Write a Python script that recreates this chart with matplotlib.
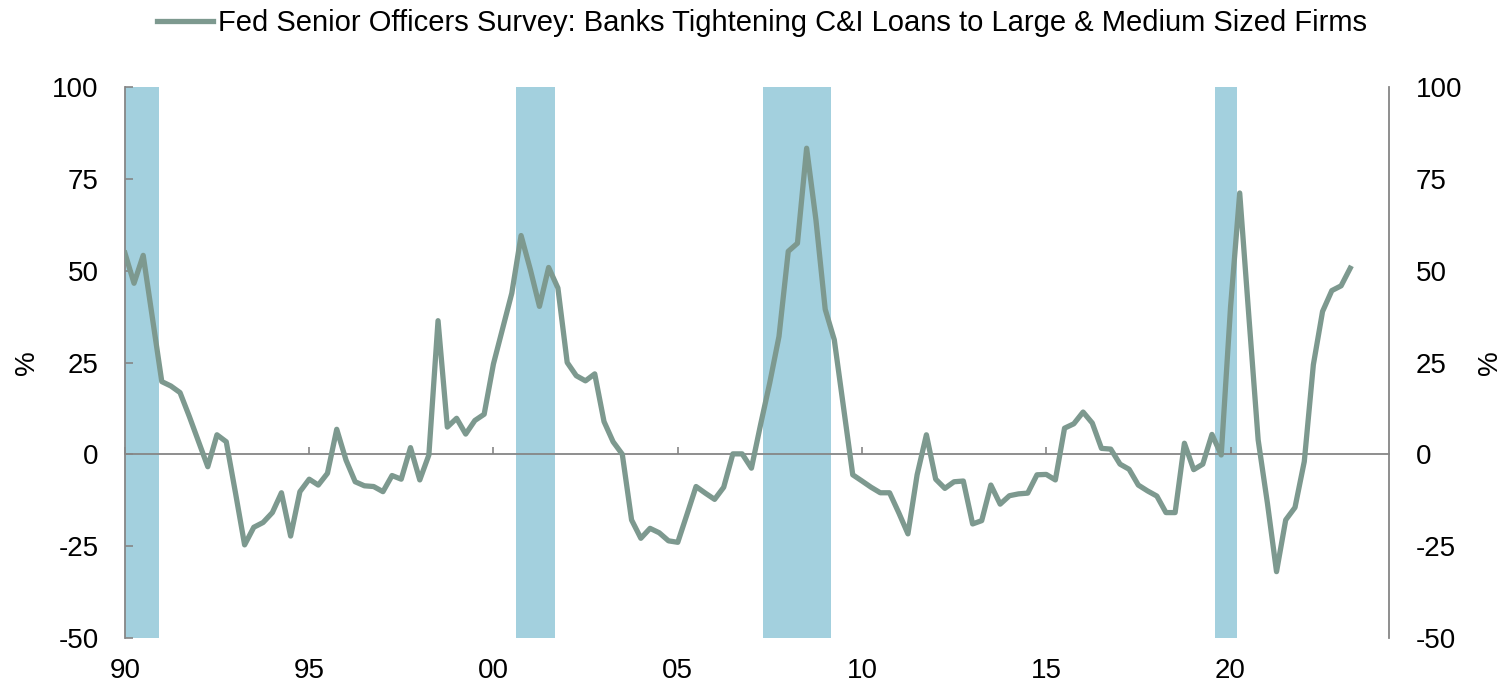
import matplotlib
matplotlib.use("Agg")
import matplotlib.pyplot as plt
import numpy as np
import pandas as pd

plt.rcParams["font.family"] = ["Liberation Sans", "DejaVu Sans"]

# quarterly net % of banks tightening C&I standards, large & medium firms, from 1990 Q1
tightening = [
    54.8, 46.6, 54.2, 37.1, 19.8, 18.6, 16.8, 10.3, 3.4, -3.4,
    5.3, 3.4, -10.6, -24.7, -19.9, -18.6, -15.9, -10.5, -22.3, -10.2,
    -6.8, -8.4, -5.2, 6.8, -1.6, -7.5, -8.6, -8.8, -10.2, -5.8,
    -6.8, 1.8, -7.0, -0.2, 36.4, 7.4, 9.8, 5.5, 9.2, 10.9,
    24.6, 34.3, 43.9, 59.6, 50.3, 40.3, 50.9, 45.3, 25.0, 21.4,
    20.0, 21.9, 8.9, 3.4, 0.0, -17.9, -22.9, -20.2, -21.4, -23.6,
    -24.0, -16.5, -8.8, -10.6, -12.3, -9.0, 0.1, 0.1, -3.8, 8.0,
    19.4, 32.1, 55.3, 57.5, 83.4, 63.9, 39.5, 31.2, 13.0, -5.6,
    -7.3, -9.0, -10.5, -10.5, -16.0, -21.7, -5.6, 5.3, -6.8, -9.3,
    -7.5, -7.3, -19.0, -18.1, -8.4, -13.6, -11.3, -10.8, -10.6, -5.6,
    -5.5, -7.0, 7.1, 8.3, 11.5, 8.5, 1.6, 1.4, -2.7, -4.1,
    -8.4, -10.0, -11.4, -15.9, -15.9, 3.0, -4.2, -2.7, 5.4, -0.2,
    40.0, 71.2, 37.5, 3.9, -13.4, -32.0, -17.9, -14.5, -2.0, 24.4,
    38.9, 44.6, 45.9, 50.7,
]
dates = pd.date_range("1990-01-01", periods=len(tightening), freq="QS")

# shaded recession periods as drawn on the chart
rec_start = ["1990-01-01", "2000-08-07", "2007-04-27", "2019-07-27"]
rec_end = ["1990-12-02", "2001-08-29", "2009-03-01", "2020-03-01"]

year_ticks = ["1990", "1995", "2000", "2005", "2010", "2015", "2020"]
year_labels = ["90", "95", "00", "05", "10", "15", "20"]
y_ticks = [-50, -25, 0, 25, 50, 75, 100]

line_color = "#7d998f"
band_color = "#a3d0de"
axis_grey = "#868686"

fig = plt.figure(figsize=(15.09, 6.88), dpi=100)
ax = fig.add_axes([0.0828, 0.0731, 0.8377, 0.8])

for s, e in zip(rec_start, rec_end):
    ax.axvspan(pd.Timestamp(s), pd.Timestamp(e), color=band_color, lw=0, zorder=1)

ax.plot(dates, tightening, color=line_color, lw=3.8, zorder=3,
        label="Fed Senior Officers Survey: Banks Tightening C&I Loans to Large & Medium Sized Firms")

ax.set_xlim(pd.Timestamp("1990-01-01"), pd.Timestamp("2024-04-20"))
ax.set_ylim(-50, 100)

# zero line acts as the x axis, labels sit at the bottom
ax.spines["bottom"].set_position(("data", 0))
ax.spines["top"].set_visible(False)
for side in ["left", "right", "bottom"]:
    ax.spines[side].set_color(axis_grey)
    ax.spines[side].set_linewidth(1.3)
ax.spines["bottom"].set_zorder(2)

ax.set_xticks([pd.Timestamp(y) for y in year_ticks])
ax.set_xticklabels(year_labels)
ax.tick_params(axis="x", direction="in", length=5, width=1.2, color=axis_grey,
               labelsize=20, pad=147)

ax.set_yticks(y_ticks)
ax.set_yticklabels([str(v) for v in y_ticks])
ax.tick_params(axis="y", direction="in", length=5.5, width=1.2, color=axis_grey,
               labelsize=20, pad=19, left=True, right=True)
ax.set_ylabel("%", fontsize=20, labelpad=9)

ax2 = ax.twinx()
ax2.set_ylim(ax.get_ylim())
ax2.set_yticks(y_ticks)
ax2.set_yticklabels([str(v) for v in y_ticks])
ax2.tick_params(axis="y", direction="in", length=0, labelsize=20, pad=19)
ax2.set_ylabel("%", fontsize=20, labelpad=11)
for side in ax2.spines:
    ax2.spines[side].set_visible(False)

fig.legend(loc="center", bbox_to_anchor=(762 / 1509, 1 - 23 / 688), frameon=False,
           fontsize=21, handlelength=1.92, handletextpad=0.14)

fig.savefig("out.png", dpi=100)
